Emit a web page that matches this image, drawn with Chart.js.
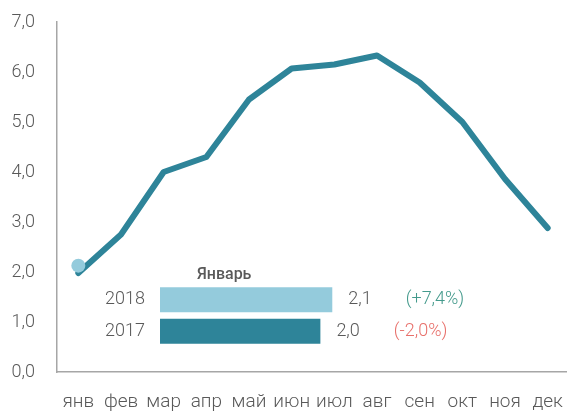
<!DOCTYPE html>
<html>
<head>
<meta charset="utf-8">
<script src="https://cdn.jsdelivr.net/npm/chart.js@4"></script>
<style>
  body { margin: 0; overflow: hidden; background: #fff; }
  #wrap { position: relative; width: 567px; height: 412px; overflow: hidden; }
  #main { position: absolute; left: 0; top: 0; }
  #inset { position: absolute; left: 90px; top: 258px; }
</style>
</head>
<body>
<div id="wrap">
  <canvas id="main" width="576" height="412"></canvas>
  <canvas id="inset" width="394" height="89"></canvas>
</div>
<script>
// месяцы
const months = ["янв", "фев", "мар", "апр", "май", "июн", "июл", "авг", "сен", "окт", "ноя", "дек"];
// 2017 по месяцам
const values2017 = [1.98, 2.75, 4.0, 4.3, 5.45, 6.07, 6.15, 6.33, 5.79, 5.0, 3.86, 2.88];
// 2018 - только январь
const values2018 = [2.127, null, null, null, null, null, null, null, null, null, null, null];
const yMin = 0;
const yMax = 7;
// врезка
const insetTitle = "Январь";
const insetYears = ["2018", "2017"];
const insetValues = [2.127, 1.98];
const insetChanges = ["(+7,4%)", "(-2,0%)"];

const dark = "#2e8499";
const light = "#94cbdc";
const gray = "#595959";
const axisGray = "#a6a6a6";
const green = "#449a8c";
const red = "#e8706b";
const font = "Roboto";

function fmt(v) {
  return v.toFixed(1).replace(".", ",");
}

new Chart(document.getElementById("main"), {
  type: "line",
  data: {
    labels: months,
    datasets: [
      {
        label: "2018",
        data: values2018,
        pointRadius: 7,
        pointBackgroundColor: light,
        pointBorderWidth: 0,
        showLine: false,
      },
      {
        label: "2017",
        data: values2017,
        borderColor: dark,
        borderWidth: 6,
        borderCapStyle: "round",
        borderJoinStyle: "round",
        pointRadius: 0,
        tension: 0,
      },
    ],
  },
  options: {
    responsive: false,
    animation: false,
    layout: { padding: { top: 22, left: 10, right: 0, bottom: 0 } },
    plugins: { legend: { display: false }, tooltip: { enabled: false } },
    scales: {
      x: {
        offset: true,
        afterFit: (scale) => {
          scale.height = 40;
          scale.paddingLeft = 0;
          scale.paddingRight = 0;
        },
        grid: { display: false, drawTicks: false },
        border: { display: true, color: axisGray, width: 1.5 },
        ticks: {
          autoSkip: false,
          maxRotation: 0,
          padding: 19,
          color: gray,
          font: { family: font, size: 19, weight: 300 },
        },
      },
      y: {
        min: yMin,
        max: yMax,
        afterFit: (scale) => {
          scale.width = 47;
          scale.paddingTop = 0;
          scale.paddingBottom = 0;
        },
        grid: { display: false, drawTicks: false },
        border: { display: true, color: axisGray, width: 1.5 },
        ticks: {
          stepSize: 1,
          padding: 22,
          color: gray,
          font: { family: font, size: 18, weight: 300 },
          callback: (v) => fmt(v),
        },
      },
    },
  },
});

// подписи значений и заголовок врезки
const insetLabels = {
  id: "insetLabels",
  afterDatasetsDraw(chart) {
    const ctx = chart.ctx;
    const meta = chart.getDatasetMeta(0);
    ctx.save();
    ctx.textBaseline = "middle";
    ctx.textAlign = "left";
    meta.data.forEach((bar, j) => {
      ctx.font = "300 18px " + font;
      ctx.fillStyle = gray;
      const txt = fmt(insetValues[j]);
      const x = bar.x + 16;
      ctx.fillText(txt, x, bar.y);
      const w = ctx.measureText(txt).width;
      ctx.fillStyle = j == 0 ? green : red;
      ctx.fillText(insetChanges[j], x + w + 34, bar.y);
    });
    ctx.font = "500 16px " + font;
    ctx.fillStyle = gray;
    ctx.textBaseline = "alphabetic";
    ctx.fillText(insetTitle, chart.chartArea.left + 37, 21);
    ctx.restore();
  },
};

new Chart(document.getElementById("inset"), {
  type: "bar",
  data: {
    labels: insetYears,
    datasets: [
      {
        data: insetValues,
        backgroundColor: [light, dark],
        categoryPercentage: 1,
        barPercentage: 0.79,
      },
    ],
  },
  options: {
    indexAxis: "y",
    responsive: false,
    animation: false,
    layout: { padding: { top: 26, left: 0, right: 0, bottom: 0 } },
    plugins: { legend: { display: false }, tooltip: { enabled: false } },
    scales: {
      x: { display: false, min: 0, max: 4 },
      y: {
        afterFit: (scale) => {
          scale.width = 70;
          scale.paddingTop = 0;
          scale.paddingBottom = 0;
        },
        grid: { display: false, drawTicks: false },
        border: { display: false },
        ticks: {
          padding: 15,
          color: gray,
          font: { family: font, size: 18, weight: 300 },
        },
      },
    },
  },
  plugins: [insetLabels],
});
</script>
</body>
</html>
